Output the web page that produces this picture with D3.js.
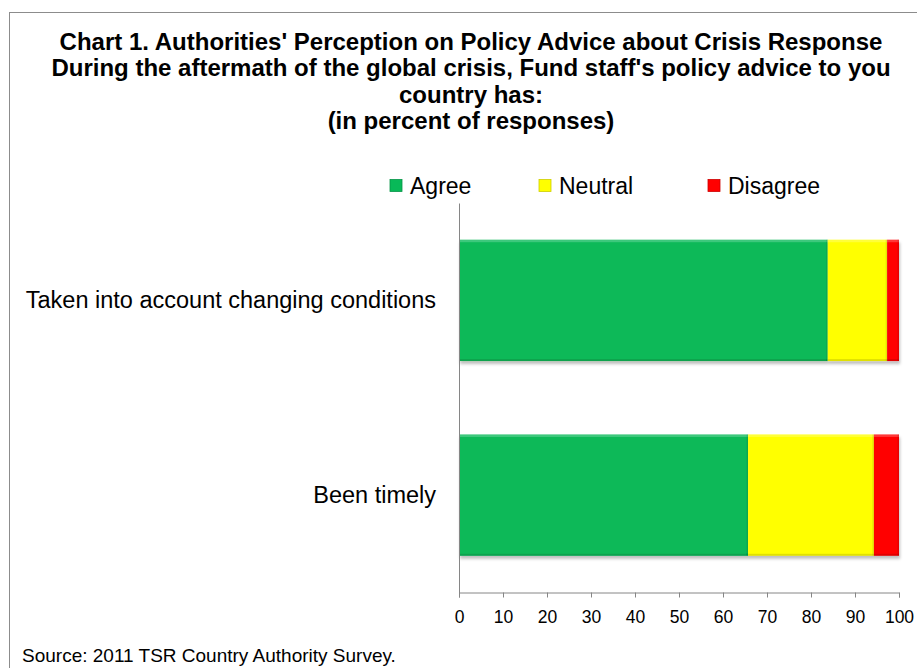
<!DOCTYPE html>
<html><head><meta charset="utf-8">
<script src="https://cdn.jsdelivr.net/npm/d3@7"></script>
<style>
html,body{margin:0;padding:0;background:#fff;}
svg{display:block;font-family:"Liberation Sans",Arial,sans-serif;}
</style></head>
<body>
<svg id="chart" width="917" height="668"></svg>
<script>
const titleLines = [
  "Chart 1. Authorities' Perception on Policy Advice about Crisis Response",
  "During the aftermath of the global crisis, Fund staff's policy advice to you",
  "country has:",
  "(in percent of responses)"
];
const categories = ["Taken into account changing conditions", "Been timely"];
const seriesNames = ["Agree", "Neutral", "Disagree"];
const seriesColors = ["#08B958", "#FFFF00", "#FF0000"];
const agree = [83.8, 65.7];
const neutral = [13.5, 28.6];
const disagree = [2.7, 5.7];
const xTicks = [0, 10, 20, 30, 40, 50, 60, 70, 80, 90, 100];
const sourceText = "Source: 2011 TSR Country Authority Survey.";

const svg = d3.select("#chart");
const W = 917, H = 668;

// outer frame
svg.append("rect").attr("x", 9.5).attr("y", 12.5).attr("width", W).attr("height", H)
  .attr("fill", "none").attr("stroke", "#8c8c8c").attr("stroke-width", 1);

// defs
const defs = svg.append("defs");
const f = defs.append("filter").attr("id", "shadow").attr("x", "-5%").attr("y", "-5%").attr("width", "110%").attr("height", "120%");
f.append("feDropShadow").attr("dx", 1).attr("dy", 3).attr("stdDeviation", 1.5).attr("flood-color", "#000").attr("flood-opacity", 0.25);

// title
svg.append("g").selectAll("text").data(titleLines).join("text")
  .attr("x", 471).attr("y", (d, i) => 41.5 + i * 26.3)
  .attr("dy", "0.35em").attr("text-anchor", "middle")
  .attr("font-weight", "bold").attr("font-size", 24).attr("fill", "#000")
  .text(d => d);

const m = {left: 459, right: 899, top: 203, bottom: 592.5};
const x = d3.scaleLinear().domain([0, 100]).range([m.left, m.right]);
const y = d3.scaleBand().domain(categories).range([m.top, m.bottom]).paddingInner(0.377).paddingOuter(0.1885);

const rows = categories.map((c, i) => ({cat: c, vals: [agree[i], neutral[i], disagree[i]]}));
const stackData = rows.map(r => {
  let acc = 0;
  return r.vals.map((v, k) => { const s = {cat: r.cat, k, x0: acc, x1: acc + v}; acc += v; return s; });
});

const bars = svg.append("g");
stackData.forEach(row => {
  const g = bars.append("g").attr("filter", "url(#shadow)");
  row.forEach(s => {
    const x0 = x(s.x0), x1 = x(s.x1), y0 = y(s.cat), h = y.bandwidth();
    g.append("rect").attr("x", x0).attr("y", y0).attr("width", x1 - x0).attr("height", h)
      .attr("fill", seriesColors[s.k]);
    g.append("rect").attr("x", x0).attr("y", y0).attr("width", x1 - x0).attr("height", 2.5)
      .attr("fill", "#fff").attr("opacity", 0.22);
    g.append("rect").attr("x", x0).attr("y", y0 + h - 2).attr("width", x1 - x0).attr("height", 2)
      .attr("fill", "#000").attr("opacity", 0.12);
    g.append("rect").attr("x", x1 - 1.5).attr("y", y0).attr("width", 1.5).attr("height", h)
      .attr("fill", "#000").attr("opacity", 0.1);
  });
});

// axes
const xAxis = d3.axisBottom(x).tickValues(xTicks).tickSize(5).tickPadding(13).tickFormat(d3.format("d"));
const gx = svg.append("g").attr("transform", `translate(0,${m.bottom})`).call(xAxis);
gx.select(".domain").attr("stroke", "#868686");
gx.selectAll(".tick line").attr("stroke", "#868686");
gx.selectAll(".tick text").attr("font-size", 17.5).attr("fill", "#000").attr("font-family", "Liberation Sans, Arial, sans-serif");

const yAxis = d3.axisLeft(y).tickSize(0).tickPadding(23);
const gy = svg.append("g").attr("transform", `translate(${m.left},0)`).call(yAxis);
gy.select(".domain").attr("stroke", "#868686");
gy.selectAll(".tick text").attr("font-size", 23.5).attr("fill", "#000").attr("font-family", "Liberation Sans, Arial, sans-serif");

// legend
const legX = [390, 539, 708];
const leg = svg.append("g");
seriesNames.forEach((n, i) => {
  leg.append("rect").attr("x", legX[i]).attr("y", 179.5).attr("width", 12).attr("height", 12)
    .attr("fill", seriesColors[i]).attr("stroke", d3.color(seriesColors[i]).darker(0.6)).attr("stroke-width", 0.8);
  leg.append("text").attr("x", legX[i] + 20).attr("y", 186).attr("dy", "0.35em")
    .attr("font-size", 23).attr("fill", "#000").text(n);
});

// source
svg.append("text").attr("x", 22).attr("y", 655).attr("dy", "0.35em")
  .attr("font-size", 19).attr("fill", "#000").text(sourceText);
</script>
</body></html>
